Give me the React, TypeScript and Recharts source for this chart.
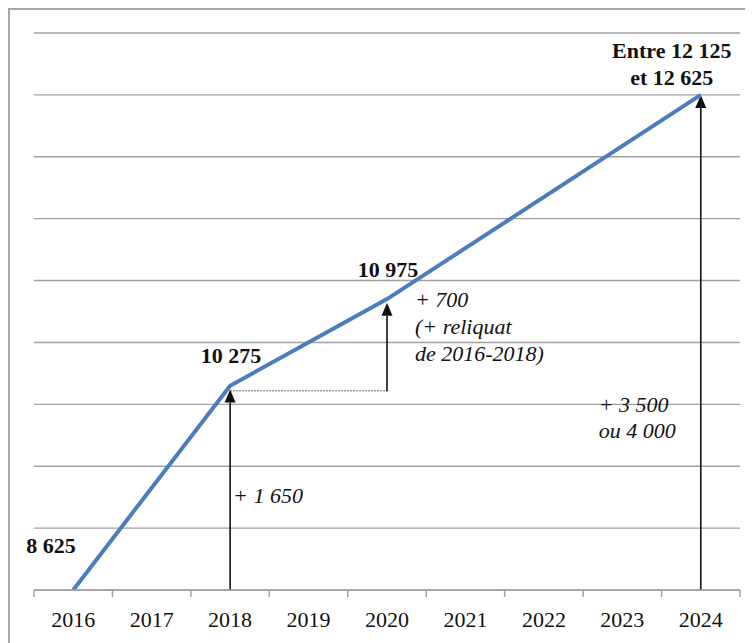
import React from "react";
import { LineChart, Line, XAxis, YAxis, CartesianGrid, ReferenceLine, ReferenceDot } from "recharts";

const years = ["2016", "2017", "2018", "2019", "2020", "2021", "2022", "2023", "2024"];
const effectifs = [8625, null, 10275, null, 10975, null, null, null, 12625];
const yTicks = [8625, 9125, 9625, 10125, 10625, 11125, 11625, 12125, 12625, 13125];

const data = years.map((year, i) => ({ year, value: effectifs[i] }));

const FONT = "'Liberation Serif', 'Times New Roman', serif";
const GRID = "#a0a0a0";

// arrow drawn from (x1,y1) to (x2,y2), head at the end
const Arrow = (props: any) => {
  const { x1, y1, x2, y2 } = props;
  const ang = Math.atan2(y2 - y1, x2 - x1);
  const len = 13;
  const w = 5.5;
  const bx = x2 - len * Math.cos(ang);
  const by = y2 - len * Math.sin(ang);
  const px = -Math.sin(ang) * w;
  const py = Math.cos(ang) * w;
  return (
    <g>
      <line x1={x1} y1={y1} x2={bx} y2={by} stroke="#111" strokeWidth={1.6} />
      <polygon points={`${x2},${y2} ${bx + px},${by + py} ${bx - px},${by - py}`} fill="#111" />
    </g>
  );
};

const DottedLine = (props: any) => {
  const { x1, y1, x2, y2 } = props;
  return <line x1={x1} y1={y1 + 5} x2={x2} y2={y2 + 5} stroke="#999" strokeWidth={1.4} strokeDasharray="2 1" />;
};

const note = (lines: string[], dx: number, dy: number, opts: { anchor?: string; bold?: boolean; italic?: boolean; gap?: number } = {}) =>
  (p: any) => (
    <text
      x={p.cx + dx}
      y={p.cy + dy}
      textAnchor={opts.anchor || "start"}
      fontFamily={FONT}
      fontSize={22}
      fontWeight={opts.bold ? 700 : 400}
      fontStyle={opts.italic ? "italic" : "normal"}
      fill="#111"
    >
      {lines.map((l, i) => (
        <tspan key={i} x={p.cx + dx} dy={i === 0 ? 0 : opts.gap || 27}>
          {l}
        </tspan>
      ))}
    </text>
  );

const YearTick = (props: any) => {
  const { x, y, payload, index } = props;
  const half = payload && payload.offset ? payload.offset : 39.2;
  return (
    <g>
      <line x1={x - half} y1={y} x2={x - half} y2={y + 7} stroke={GRID} strokeWidth={1.5} />
      {index === years.length - 1 && (
        <line x1={x + half} y1={y} x2={x + half} y2={y + 7} stroke={GRID} strokeWidth={1.5} />
      )}
      <text x={x} y={y + 37} textAnchor="middle" fontFamily={FONT} fontSize={22} fill="#111">
        {payload.value}
      </text>
    </g>
  );
};

export default function App() {
  return (
    <div
      style={{
        position: "relative",
        width: 745,
        height: 635,
        borderLeft: "2px solid #a6a6a6",
        borderTop: "2px solid #a6a6a6",
        boxSizing: "border-box",
        fontFamily: FONT,
        background: "#fff",
      }}
    >
      <LineChart width={743} height={633} data={data} margin={{ top: 23, right: 13, bottom: 13, left: 24 }}>
        <CartesianGrid vertical={false} stroke={GRID} strokeWidth={1.4} />
        <XAxis
          dataKey="year"
          scale="band"
          height={40}
          tickSize={0}
          tickMargin={0}
          tickLine={false}
          axisLine={{ stroke: GRID, strokeWidth: 1.5 }}
          tick={<YearTick />}
          interval={0}
        />
        <YAxis
          width={0}
          domain={[8625, 13125]}
          ticks={yTicks}
          interval={0}
          tickFormatter={() => ""}
          axisLine={false}
          tickLine={false}
        />
        <ReferenceLine segment={[{ x: "2018", y: 10275 }, { x: "2020", y: 10275 }]} shape={<DottedLine />} />
        <ReferenceLine segment={[{ x: "2018", y: 8625 }, { x: "2018", y: 10245 }]} shape={<Arrow />} />
        <ReferenceLine segment={[{ x: "2020", y: 10230 }, { x: "2020", y: 10945 }]} shape={<Arrow />} />
        <ReferenceLine segment={[{ x: "2024", y: 8625 }, { x: "2024", y: 12625 }]} shape={<Arrow />} />
        <Line
          type="linear"
          dataKey="value"
          stroke="#4a7ebb"
          strokeWidth={4}
          dot={false}
          activeDot={false}
          connectNulls
          isAnimationActive={false}
        />
        <ReferenceDot x="2016" y={8625} r={0} shape={note(["8 625"], -47, -37, { bold: true })} />
        <ReferenceDot x="2018" y={10275} r={0} shape={note(["10 275"], 1, -23, { anchor: "middle", bold: true })} />
        <ReferenceDot x="2020" y={10975} r={0} shape={note(["10 975"], 1, -22, { anchor: "middle", bold: true })} />
        <ReferenceDot
          x="2024"
          y={12625}
          r={0}
          shape={note(["Entre 12 125", "et 12 625"], -29, -37, { anchor: "middle", bold: true })}
        />
        <ReferenceDot
          x="2020"
          y={10975}
          r={0}
          shape={note(["+ 700", "(+ reliquat", "de 2016-2018)"], 28, 8, { italic: true })}
        />
        <ReferenceDot x="2024" y={8625} r={0} shape={note(["+ 3 500", "ou 4 000"], -102, -178, { italic: true, gap: 26 })} />
        <ReferenceDot x="2018" y={8625} r={0} shape={note(["+ 1 650"], 3, -87, { italic: true })} />
      </LineChart>
    </div>
  );
}
